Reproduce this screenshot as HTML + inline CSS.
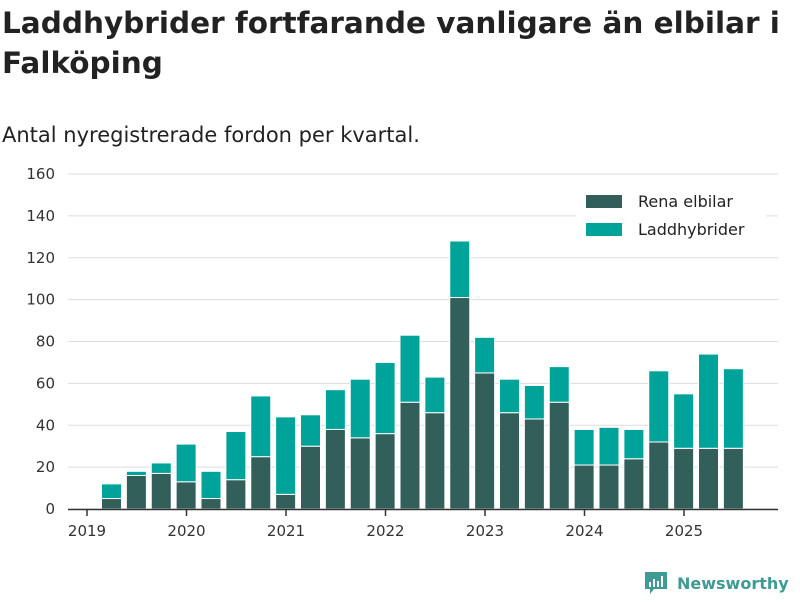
<!DOCTYPE html>
<html><head><meta charset="utf-8"><style>
body{margin:0;width:800px;height:600px;background:#fff;font-family:"DejaVu Sans","Liberation Sans",sans-serif;overflow:hidden}
</style></head><body>
<svg width="800" height="600">
<text x="2" y="33" font-size="29.5" font-weight="bold" fill="#222">Laddhybrider fortfarande vanligare än elbilar i</text>
<text x="2" y="73" font-size="29.5" font-weight="bold" fill="#222">Falköping</text>
<text x="2" y="142" font-size="21" fill="#222">Antal nyregistrerade fordon per kvartal.</text>
<g id="grid"></g><g id="bars"></g><g id="axis"></g>
<g>
<rect x="576" y="184" width="190" height="60" fill="#fff"/>
<rect x="586" y="195" width="36" height="13" fill="#335f5a"/>
<text x="638" y="207" font-size="16" fill="#222">Rena elbilar</text>
<rect x="586" y="223" width="36" height="13" fill="#00a39a"/>
<text x="638" y="235" font-size="16" fill="#222">Laddhybrider</text>
</g>
<g>
<path d="M645 572h22v17h-13l-4 5v-5h-5z" fill="#3e9a92"/>
<rect x="649" y="582" width="2" height="5" fill="#fff"/><rect x="653" y="579" width="2" height="8" fill="#fff"/><rect x="657" y="581" width="2" height="6" fill="#fff"/><rect x="661" y="576" width="2" height="11" fill="#fff"/>
<text x="677" y="589" font-size="16" font-weight="bold" fill="#3e9a92">Newsworthy</text>
</g>
</svg>
<script>
const elbil=[5,16,17,13,5,14,25,7,30,38,34,36,51,46,101,65,46,43,51,21,21,24,32,29,29,29];
const total=[12,18,22,31,18,37,54,44,45,57,62,70,83,63,128,82,62,59,68,38,39,38,66,55,74,67];
const years=[2019,2020,2021,2022,2023,2024,2025];
const yTicks=[0,20,40,60,80,100,120,140,160];
const NS='http://www.w3.org/2000/svg';
const y=v=>509-v*335/160;
const xYear=yr=>87+(yr-2019)*99.5;
const xBar=i=>xYear(2019)+24.5+i*24.875;
function mk(t,a,p){const e=document.createElementNS(NS,t);for(const k in a)e.setAttribute(k,a[k]);p.appendChild(e);return e;}
const g=document.getElementById('grid'),b=document.getElementById('bars'),ax=document.getElementById('axis');
yTicks.forEach(v=>{
 const l=mk('line',{x1:68,x2:778,y1:y(v),y2:y(v),stroke:'#ddd','stroke-width':1},g);
 
 
 const t=mk('text',{x:55,y:y(v)+5,'font-size':15,fill:'#333','text-anchor':'end'},g);t.textContent=v;
 
 
});
elbil.forEach((v,i)=>{
 const cx=xBar(i);
 const r1=mk('rect',{x:cx-10,y:y(v),width:20,height:y(0)-y(v),fill:'#335f5a',stroke:'#fff','stroke-width':1},b);
 
 
 const r2=mk('rect',{x:cx-10,y:y(total[i]),width:20,height:y(v)-y(total[i]),fill:'#00a39a',stroke:'#fff','stroke-width':1},b);
 
 
});
const al=mk('line',{x1:68,x2:778,y1:509.5,y2:509.5,stroke:'#333','stroke-width':1.5},ax);


years.forEach(yr=>{
 mk('line',{x1:xYear(yr),x2:xYear(yr),y1:509,y2:516,stroke:'#333','stroke-width':1.5},ax);
 const t=mk('text',{x:xYear(yr),y:536,'font-size':15,fill:'#333','text-anchor':'middle'},ax);t.textContent=yr;
 
 
});
</script>
</body></html>
